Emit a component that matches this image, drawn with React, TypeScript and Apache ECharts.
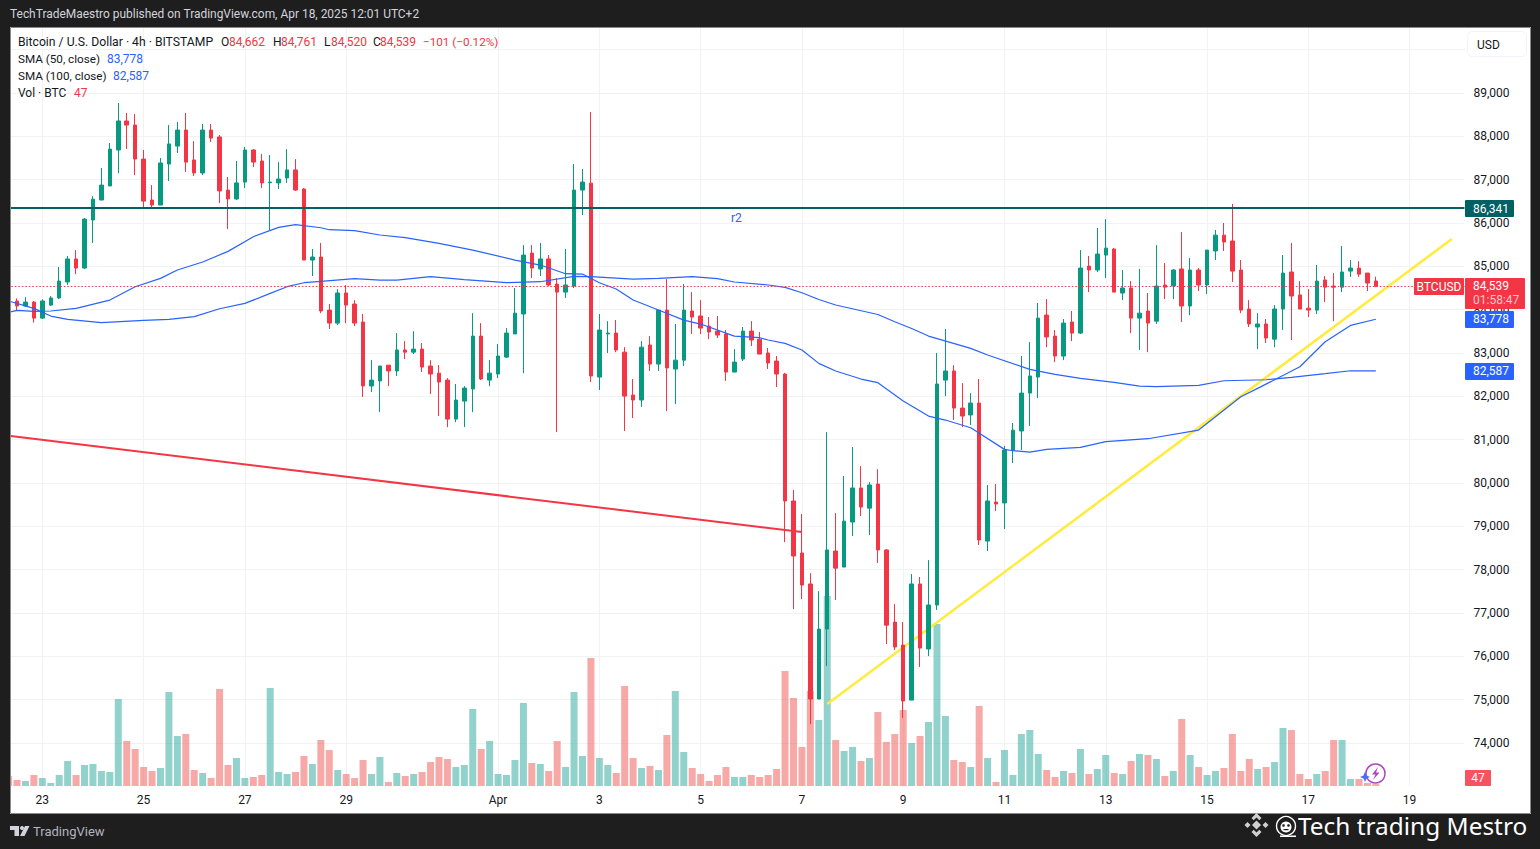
import React, { useEffect, useRef } from "react";
import * as echarts from "echarts";

const opens = [
  84200,84085,84175,83805,84105,84270,84640,85170,84960,86070,
  86530,86855,87685,88355,88260,87475,86530,86415,87360,87775,
  88145,87455,87155,88145,87985,86760,86555,86945,87685,87430,
  86930,86925,87040,87225,86785,85145,85215,83990,83690,84385,
  84130,83715,82240,82355,82720,82585,83070,83020,83090,82700,
  82535,82375,81475,81890,82170,83390,82375,82515,82905,83440,
  83900,85305,84940,85170,84590,84405,84545,86760,86920,82445,
  83440,83460,83020,82030,81915,83185,82745,83990,82630,82835,
  83970,83855,83620,83505,83440,82560,82860,83505,83320,83000,
  82815,82515,79585,78385,77670,75015,76630,78430,78060,79100,
  79885,79420,79975,78455,76790,76260,74990,77670,76170,77185,
  82375,82585,81730,81570,81845,78660,79560,79540,80760,81200,
  82075,82445,83875,83390,82930,83715,83460,85005,84915,85260,
  85400,84385,84500,83805,83970,83735,84570,84545,84940,84085,
  84915,84570,85355,85720,85585,84915,84015,83600,83670,83320,
  84015,84870,84340,84035,83990,84685,84545,84520,84890,84960,
  84845,84662,
];
const closes = [
  84085,84175,83805,84200,84270,84660,85170,84960,86090,86550,
  86875,87705,88355,88260,87475,86505,86415,87385,87825,88145,
  87405,87155,88145,87960,86740,86555,86925,87685,87405,86925,
  86945,87015,87225,86760,85145,85215,83970,83690,84385,84105,
  83690,82240,82375,82700,82585,83070,83020,83090,82675,82515,
  82330,81475,81915,82190,83390,82400,82535,82930,83460,83920,
  85260,84960,85170,84570,84405,84570,86760,86945,82470,83530,
  83460,83070,82005,81915,83135,82745,83990,82655,82835,83990,
  83830,83575,83485,83415,82560,82790,83505,83300,82975,82770,
  82515,79585,78315,77645,75015,76630,78455,78035,79120,79885,
  79445,79955,78455,76720,76215,74970,77670,76190,77185,82285,
  82585,81730,81545,81845,78685,79585,79515,80760,81220,82075,
  82470,83805,83370,82930,83690,83460,84960,84915,85285,85420,
  84405,84500,83805,83920,83690,84545,84520,84915,84085,84915,
  84570,85375,85720,85560,84890,83990,83670,83670,83345,84015,
  84845,84315,84015,83990,84660,84520,84520,84870,84960,84820,
  84615,84539,
];
const highs = [
  84260,84290,84200,84240,84315,84985,85240,85375,86115,86620,
  87270,87845,88770,88540,88515,87685,86875,87500,88260,88330,
  88540,87890,88285,88285,88030,87060,87430,87755,87705,87590,
  87570,87405,87705,87475,86805,85400,85540,84130,84475,84570,
  84220,83900,82835,82700,82720,83460,83275,83505,83230,82835,
  82720,82420,82285,82235,83920,83690,82835,83205,83575,84500,
  85490,85490,85540,85260,84730,85400,87360,87245,88560,83900,
  83735,83760,83135,82400,83275,83390,83990,84705,83670,84590,
  84405,84220,83830,83855,83530,83090,83600,83735,83485,83115,
  82930,82540,79840,79285,77920,77505,81175,79305,80160,80830,
  80390,80020,80320,78475,77205,76790,77900,77830,78220,83000,
  83555,82720,82305,82075,82400,79955,79975,80855,81385,82930,
  83255,84155,84245,83530,83785,83970,85375,85240,85885,86090,
  85420,84915,84660,84940,84385,85490,85075,84940,85790,85190,
  84960,85375,85840,86000,86440,85145,84220,83920,83785,84105,
  85260,85540,84660,84475,85030,84775,84845,85470,85145,85120,
  84845,84761,
];
const lows = [
  83970,84070,83700,83785,84085,84245,84570,84820,84940,85540,
  86530,86855,87150,87705,87105,86370,86325,86415,86970,87615,
  87175,87085,87105,87870,86460,85860,86530,86805,87290,86805,
  85840,86785,86925,86740,85145,84775,83920,83555,83645,83690,
  83620,81985,82100,81635,82235,82470,82860,82975,82560,82055,
  81545,81290,81405,81290,81635,82375,82235,82420,82885,83440,
  82535,84730,84775,84545,81175,84270,84500,86185,82330,82145,
  83000,83020,81200,81500,81755,82585,82585,81660,81820,82700,
  83440,83440,83320,83345,82355,82560,82815,83160,82975,82630,
  82215,78635,77090,77320,74435,75015,75775,77300,78060,78775,
  79240,78800,78155,76285,76145,74575,74990,75755,76005,77070,
  82005,81455,81290,81340,78570,78430,79355,78940,80460,80760,
  81315,81960,83135,82790,82835,83275,83435,84405,84870,84730,
  84405,84220,83460,83070,83020,83670,84245,84245,83715,83875,
  84430,84360,85145,85355,84640,83920,83600,83090,83230,83135,
  83530,83300,84015,83830,83900,84175,83735,84405,84755,84755,
  84430,84520,
];
const volumes = [
  144,120,264,192,72,264,600,264,504,528,
  360,336,2088,1080,888,456,360,432,2256,1200,
  1248,384,312,192,2328,504,672,192,216,264,
  2352,336,288,336,720,528,1104,864,384,288,
  192,624,288,696,96,312,240,288,336,576,
  696,648,456,504,1848,888,1080,288,264,624,
  1992,552,528,360,1080,456,2256,720,3072,672,
  504,312,2400,672,432,480,384,1224,2280,816,
  432,288,120,264,456,216,216,264,216,264,
  408,2760,2112,936,2280,1584,4560,1104,840,936,
  600,672,1776,1056,1248,1824,1032,1200,1536,3888,
  1680,624,576,456,1920,672,96,864,264,1248,
  1344,768,384,216,360,312,888,288,408,744,
  312,288,600,768,744,648,240,360,1608,744,
  456,264,360,432,1248,360,648,408,456,576,
  1392,1344,288,168,288,360,1104,1104,168,168,
  72,47,
];
const clippedFirstVolume = 240;

// [candle index, price]
const sma50Points: [number, number][] = [
  [-1,83938],[0,83984],[2,83961],[4,83969],[7,84030],[11,84222],[14,84530],[17,84722],[19,84915],[22,85100],
  [25,85345],[28,85684],[31,85900],[33,85961],[36,85890],[37,85845],[40,85823],[43,85723],[46,85661],[50,85530],
  [54,85376],[59,85145],[62,85030],[65,84830],[67,84822],[69,84622],[71,84476],[73,84222],[76,83992],[79,83760],
  [81,83668],[85,83391],[88,83353],[89,83300],[91,83222],[93,83069],[95,82761],[97,82584],[100,82399],[102,82315],
  [105,81892],[108,81545],[110,81453],[113,81276],[117,80776],[118,80745],[120,80714],[122,80776],[126,80822],[129,80953],
  [134,81022],[140,81222],[142,81530],[145,81991],[147,82183],[152,82684],[155,83260],[158,83637],[161,83778],
];
const sma100Points: [number, number][] = [
  [-1,84199],[2,84030],[4,83853],[6,83776],[10,83699],[15,83753],[18,83776],[21,83838],[24,84022],[27,84145],
  [30,84376],[32,84530],[34,84622],[36,84653],[40,84715],[43,84684],[45,84684],[49,84761],[53,84692],[58,84622],
  [62,84645],[66,84768],[68,84761],[73,84707],[76,84722],[80,84761],[83,84715],[85,84638],[89,84569],[91,84516],
  [93,84391],[95,84234],[97,84107],[102,83888],[104,83722],[106,83565],[108,83391],[113,83108],[115,82953],[120,82623],
  [123,82507],[126,82414],[130,82322],[133,82237],[135,82222],[140,82253],[143,82360],[148,82383],[151,82437],[155,82522],
  [158,82591],[161,82587],
];
const redTrend: [number, number][] = [[-1,81090],[93,78868]];
const yellowTrend: [number, number][] = [[96,74898],[170,85630]];
const r2Level = 86341;
const lastPrice = 84539;
const candleCount = 162;
const slotCount = 173;

const dayTicks: Record<number, string> = {
  4: "23", 16: "25", 28: "27", 40: "29", 58: "Apr", 70: "3", 82: "5", 94: "7",
  106: "9", 118: "11", 130: "13", 142: "15", 154: "17", 166: "19",
};
const priceLabelsHidden = [73000, 90000];

const FONT = "Roboto, 'Open Sans', sans-serif";
const INK = "#131722";
const RED = "#f23645";
const GREEN = "#089981";
const BLUE = "#2962ff";
const DARK = "#1e1e1e";

const txt = (x: number, y: number, text: string, fill: string, size = 12, extra: any = {}) => ({
  type: "text",
  z: 120,
  x,
  y,
  silent: true,
  style: {
    text,
    fill,
    font: `${extra.weight || "normal"} ${size}px ${extra.family || FONT}`,
    align: extra.align || "left",
    verticalAlign: "middle",
  },
});
const box = (x: number, y: number, width: number, height: number, fill: string, r = 1) => ({
  type: "rect",
  z: 110,
  silent: true,
  shape: { x, y, width, height, r },
  style: { fill },
});
const poly = (points: number[][], fill: string) => ({
  type: "polygon",
  z: 120,
  silent: true,
  shape: { points },
  style: { fill },
});

const graphics = [
  box(0, 0, 1540, 27, DARK, 0),
  box(0, 814, 1540, 35, DARK, 0),
  box(0, 0, 10, 849, DARK, 0),
  box(1531, 0, 9, 849, DARK, 0),
  {
    type: "rect", z: 111, silent: true,
    shape: { x: 10.5, y: 27.5, width: 1520, height: 786 },
    style: { fill: "none", stroke: "#8a8a8a", lineWidth: 1 },
  },
  txt(10, 14, "TechTradeMaestro published on TradingView.com, Apr 18, 2025 12:01 UTC+2", "#d1d4dc", 11.95),

  txt(18, 42, "Bitcoin / U.S. Dollar · 4h · BITSTAMP", INK, 12.2),
  txt(221, 42, "O", INK), txt(229, 42, "84,662", RED),
  txt(273, 42, "H", INK), txt(281, 42, "84,761", RED),
  txt(324, 42, "L", INK), txt(331, 42, "84,520", RED),
  txt(373, 42, "C", INK), txt(380, 42, "84,539", RED),
  txt(423, 42, "−101 (−0.12%)", RED, 11.7),
  txt(18, 59, "SMA (50, close)", INK, 11.7), txt(107, 59, "83,778", BLUE),
  txt(18, 76, "SMA (100, close)", INK, 11.7), txt(113, 76, "82,587", BLUE),
  txt(18, 93, "Vol · BTC", INK, 12), txt(74, 93, "47", RED),

  txt(731, 218, "r2", BLUE, 12),

  {
    type: "rect", z: 110, silent: true,
    shape: { x: 1467.5, y: 31.5, width: 59, height: 25, r: 5 },
    style: { fill: "#fff", stroke: "#f0f3fa", lineWidth: 1 },
  },
  txt(1477, 44.5, "USD", INK),

  box(1465, 200, 49, 17, "#006064"),
  txt(1473, 208.5, "86,341", "#fff", 12),
  box(1414, 278, 50, 17, RED),
  txt(1439, 286.5, "BTCUSD", "#fff", 12, { align: "center" }),
  box(1465, 278, 60, 31, RED),
  txt(1473, 286, "84,539", "#fff", 12),
  txt(1473, 300, "01:58:47", "#fbc5ca", 12),
  box(1465, 311, 49, 17, BLUE),
  txt(1473, 319, "83,778", "#fff", 12),
  box(1465, 363, 49, 17, BLUE),
  txt(1473, 371, "82,587", "#fff", 12),
  box(1465, 770, 26, 16, "#f7525f"),
  txt(1478, 778, "47", "#fff", 12, { align: "center" }),

  // lightning badge near the last volume bar
  {
    type: "circle", z: 112, silent: true,
    shape: { cx: 1375.5, cy: 773.5, r: 9.5 },
    style: { fill: "rgba(255,255,255,0.6)", stroke: "#ab47bc", lineWidth: 1.5 },
  },
  { ...poly([[1378, 767], [1372, 774.5], [1375.5, 774.5], [1373, 780], [1379.5, 772.5], [1376, 772.5]], "#ab47bc"), z: 113 },
  { ...poly([[1365, 771.5], [1366.5, 775.5], [1370, 777], [1366.5, 778.5], [1365, 782], [1363.5, 778.5], [1360, 777], [1363.5, 775.5]], "#4d6bff"), z: 113 },

  // TradingView logo
  poly([[10, 826], [19, 826], [19, 836], [14.5, 836], [14.5, 830], [10, 830]], "#d1d4dc"),
  { type: "circle", z: 120, silent: true, shape: { cx: 22, cy: 828, r: 2 }, style: { fill: "#d1d4dc" } },
  poly([[25, 826], [29.5, 826], [24.5, 836], [20, 836]], "#d1d4dc"),
  txt(33, 831.5, "TradingView", "#b2b5be", 13),

  // Watermark
  poly([[1256.5, 813], [1261.5, 818], [1259.3, 820.2], [1256.5, 817.4], [1253.7, 820.2], [1251.5, 818]], "#d0d0d0"),
  poly([[1256.5, 820.5], [1261, 825], [1256.5, 829.5], [1252, 825]], "#d0d0d0"),
  poly([[1247.5, 822], [1250.5, 825], [1247.5, 828], [1244.5, 825]], "#d0d0d0"),
  poly([[1265.5, 822], [1268.5, 825], [1265.5, 828], [1262.5, 825]], "#d0d0d0"),
  poly([[1251.5, 832], [1253.7, 829.8], [1256.5, 832.6], [1259.3, 829.8], [1261.5, 832], [1256.5, 837]], "#d0d0d0"),
  {
    type: "circle", z: 120, silent: true,
    shape: { cx: 1286, cy: 826, r: 9.5 },
    style: { fill: "none", stroke: "#ffffff", lineWidth: 1.4 },
  },
  { type: "circle", z: 120, silent: true, shape: { cx: 1286, cy: 827, r: 5.5 }, style: { fill: "#ffffff" } },
  { type: "circle", z: 121, silent: true, shape: { cx: 1283.5, cy: 825.5, r: 1.3 }, style: { fill: DARK } },
  { type: "circle", z: 121, silent: true, shape: { cx: 1288.5, cy: 825.5, r: 1.3 }, style: { fill: DARK } },
  { type: "rect", z: 121, silent: true, shape: { x: 1283.5, y: 829, width: 5, height: 1.2 }, style: { fill: DARK } },
  { type: "rect", z: 121, silent: true, shape: { x: 1280, y: 835.5, width: 16, height: 1.5 }, style: { fill: "#ffffff" } },
  txt(1298, 825.5, "Tech trading Mestro", "#ffffff", 24.4, { family: "'Noto Sans', sans-serif" }),
];

export default function App() {
  const ref = useRef<HTMLDivElement>(null);

  useEffect(() => {
    if (!ref.current) return;
    const chart = echarts.init(ref.current, undefined, { renderer: "svg" });
    const categories = Array.from({ length: slotCount }, (_, j) => dayTicks[j] ?? "");
    const candleData: any[] = [["-", "-", "-", "-"]];
    for (let i = 0; i < candleCount; i++) candleData.push([opens[i], closes[i], lows[i], highs[i]]);
    const volData: any[] = [
      { value: clippedFirstVolume, itemStyle: { color: "rgba(239,83,80,0.5)" } },
      ...volumes.map((v, i) => ({
        value: v,
        itemStyle: { color: closes[i] >= opens[i] ? "rgba(38,166,154,0.5)" : "rgba(239,83,80,0.5)" },
      })),
    ];
    const shift = (pts: [number, number][]) => pts.map(([i, v]) => [i + 1, v]);
    const line = (name: string, data: number[][], color: string, width: number, z: number) => ({
      name,
      type: "line",
      xAxisIndex: 0,
      yAxisIndex: 0,
      data,
      z,
      showSymbol: false,
      symbol: "none",
      silent: true,
      lineStyle: { color, width },
    });
    const level = (name: string, value: number, color: string, width: number, z: number, type: any) => ({
      name,
      type: "line",
      xAxisIndex: 0,
      yAxisIndex: 0,
      data: [],
      z,
      silent: true,
      markLine: {
        silent: true,
        symbol: "none",
        animation: false,
        label: { show: false },
        lineStyle: { color, width, type, cap: "butt" },
        data: [{ yAxis: value }],
      },
    });

    chart.setOption({
      animation: false,
      backgroundColor: "#ffffff",
      textStyle: { fontFamily: FONT },
      grid: [
        { left: 4.34, width: 1460.12, top: 49.67, height: 736.67, containLabel: false },
        { left: 4.34, width: 1460.12, top: 28, height: 758, containLabel: false },
      ],
      xAxis: [
        {
          type: "category", gridIndex: 0, data: categories, boundaryGap: true,
          show: false, axisLine: { show: false }, axisTick: { show: false }, splitLine: { show: false },
        },
        {
          type: "category", gridIndex: 1, data: categories, boundaryGap: true,
          axisLine: { show: false },
          axisTick: { show: false },
          axisLabel: {
            interval: 0, color: INK, fontSize: 12, fontFamily: FONT, margin: 8,
            fontWeight: "normal", hideOverlap: false,
          },
          splitLine: {
            show: true,
            alignWithLabel: true,
            interval: (j: number) => dayTicks[j] !== undefined,
            lineStyle: { color: "#f2f2f2", width: 1 },
          },
        },
      ],
      yAxis: [
        {
          type: "value", gridIndex: 0, position: "right", min: 73000, max: 90000, interval: 1000,
          axisLine: { show: false }, axisTick: { show: false },
          axisLabel: {
            color: INK, fontSize: 12, fontFamily: FONT, margin: 9, showMinLabel: true, showMaxLabel: true,
            padding: [0, 0, 1, 0],
            formatter: (v: number) => (priceLabelsHidden.includes(v) ? "" : v.toLocaleString("en-US")),
          },
          splitLine: { show: true, showMinLine: false, lineStyle: { color: "#f2f2f2", width: 1 } },
        },
        {
          type: "value", gridIndex: 1, min: 0, max: 18192, show: false, splitLine: { show: false },
        },
      ],
      graphic: graphics,
      series: [
        {
          name: "Vol", type: "bar", xAxisIndex: 1, yAxisIndex: 1, data: volData, barWidth: 7, z: 1, silent: true,
        },
        level("r2", r2Level, "#006064", 2, 2, "solid"),
        line("Red trend", shift(redTrend), RED, 2, 2),
        line("Yellow trend", shift(yellowTrend), "#ffeb3b", 2.5, 2),
        {
          name: "BTCUSD", type: "candlestick", xAxisIndex: 0, yAxisIndex: 0, data: candleData, barWidth: 4, z: 3, silent: true,
          itemStyle: { color: GREEN, color0: RED, borderColor: GREEN, borderColor0: RED, borderWidth: 1 },
        },
        line("SMA 50", shift(sma50Points), BLUE, 1.2, 4),
        line("SMA 100", shift(sma100Points), BLUE, 1.2, 4),
        level("Last", lastPrice, RED, 1, 5, [1.5, 2]),
      ],
    });
    return () => chart.dispose();
  }, []);

  return <div ref={ref} style={{ position: "fixed", left: 0, top: 0, width: 1540, height: 849 }} />;
}
